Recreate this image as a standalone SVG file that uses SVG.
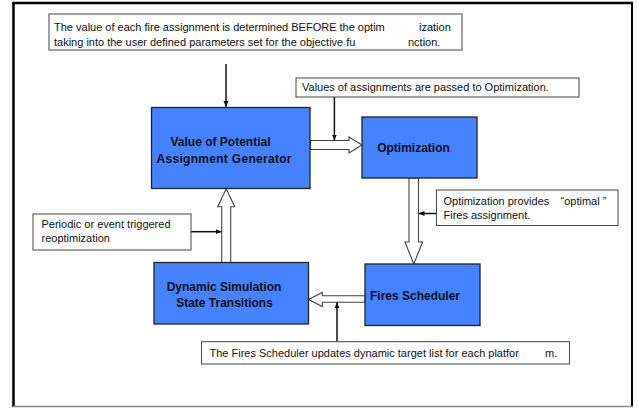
<svg xmlns="http://www.w3.org/2000/svg" width="638" height="409" viewBox="0 0 638 409">
<defs>
<style>
.node{fill:#4582FF;stroke:#222;stroke-width:1.3}
.note{fill:#fff;stroke:#444;stroke-width:1}
.t{font-family:"Liberation Sans",Arial,sans-serif;font-size:11px;fill:#111}
.b{font-family:"Liberation Sans",Arial,sans-serif;font-size:12px;font-weight:bold;fill:#111}
.hollow{fill:#fff;stroke:#444;stroke-width:1.1}
.thin{stroke:#111;stroke-width:1.5;fill:none;marker-end:url(#ah)}
</style>
<marker id="ah" markerUnits="userSpaceOnUse" markerWidth="6" markerHeight="6" viewBox="0 0 6 6" refX="6" refY="3" orient="auto">
<path d="M0,0.5 L6,3 L0,5.5 Z" fill="#111"/>
</marker>
</defs>
<rect x="0" y="0" width="638" height="409" fill="#fff"/>
<g id="frame">
<line x1="13.5" y1="2" x2="13.5" y2="407" stroke="#000" stroke-width="2.5"/>
<line x1="12.5" y1="3" x2="633" y2="3" stroke="#000" stroke-width="2.5"/>
<line x1="632" y1="2" x2="632" y2="407" stroke="#000" stroke-width="2"/>
<line x1="13" y1="406.5" x2="633" y2="406.5" stroke="#888" stroke-width="1.5"/>
</g>
<g id="connectors">
<polygon class="hollow" points="310,140.5 349,140.5 349,137 362,145 349,153 349,149.5 310,149.5"/>
<polygon class="hollow" points="409,178 409,242 405,242 413.8,264 422.6,242 418.5,242 418.5,178"/>
<polygon class="hollow" points="221.7,262.5 221.7,206.7 217.7,206.7 226.2,188.8 234.8,206.7 230.7,206.7 230.7,262.5"/>
<polygon class="hollow" points="365,295.7 322.3,295.7 322.3,292.5 308.5,299.5 322.3,306.5 322.3,302.3 365,302.3"/>
<line class="thin" x1="226" y1="64" x2="226" y2="107"/>
<line class="thin" x1="334.4" y1="97" x2="334.4" y2="140.5"/>
<line class="thin" x1="436.5" y1="213.5" x2="418.5" y2="213.5"/>
<line class="thin" x1="191" y1="231.7" x2="221.7" y2="231.7"/>
<line class="thin" x1="337" y1="341.7" x2="337" y2="302.3"/>
</g>
<g id="note-top">
<rect class="note" x="49" y="14" width="413" height="36"/>
<text class="t" x="54" y="31">The value of each fire assignment is determined BEFORE the optim</text>
<text class="t" x="419" y="31">ization</text>
<text class="t" x="54" y="46">taking into the user defined parameters set for the objective fu</text>
<text class="t" x="408" y="46">nction.</text>
</g>
<g id="note-values">
<rect class="note" x="296" y="78" width="283" height="19"/>
<text class="t" x="302" y="90.5">Values of assignments are passed to Optimization.</text>
</g>
<g id="node-generator">
<rect class="node" x="151.5" y="107.5" width="158.5" height="81"/>
<text class="b" x="220.5" y="146" text-anchor="middle">Value of Potential</text>
<text class="b" x="224" y="162.5" text-anchor="middle" textLength="135" lengthAdjust="spacing">Assignment Generator</text>
</g>
<g id="node-optimization">
<rect class="node" x="362" y="117" width="115" height="61"/>
<text class="b" x="413.5" y="152" text-anchor="middle">Optimization</text>
</g>
<g id="note-optimal">
<rect class="note" x="436.5" y="190" width="181.5" height="35.5"/>
<text class="t" x="443.5" y="205">Optimization provides</text>
<text class="t" x="560.5" y="205">“optimal ”</text>
<text class="t" x="443.5" y="218.5">Fires assignment.</text>
</g>
<g id="note-periodic">
<rect class="note" x="33" y="214" width="158" height="36"/>
<text class="t" x="41.5" y="228.3">Periodic or event triggered</text>
<text class="t" x="41.5" y="242.3">reoptimization</text>
</g>
<g id="node-dynamic">
<rect class="node" x="154" y="262.5" width="154.5" height="61.5"/>
<text class="b" x="224" y="290.7" text-anchor="middle">Dynamic Simulation</text>
<text class="b" x="224.5" y="307" text-anchor="middle">State Transitions</text>
</g>
<g id="node-scheduler">
<rect class="node" x="365" y="264" width="115" height="61.5"/>
<text class="b" x="370" y="300">Fires Scheduler</text>
</g>
<g id="note-bottom">
<rect class="note" x="201.5" y="341.7" width="368" height="22.3"/>
<text class="t" x="209.5" y="356.7">The Fires Scheduler updates dynamic target list for each platfor</text>
<text class="t" x="545" y="356.7">m.</text>
</g>
</svg>
